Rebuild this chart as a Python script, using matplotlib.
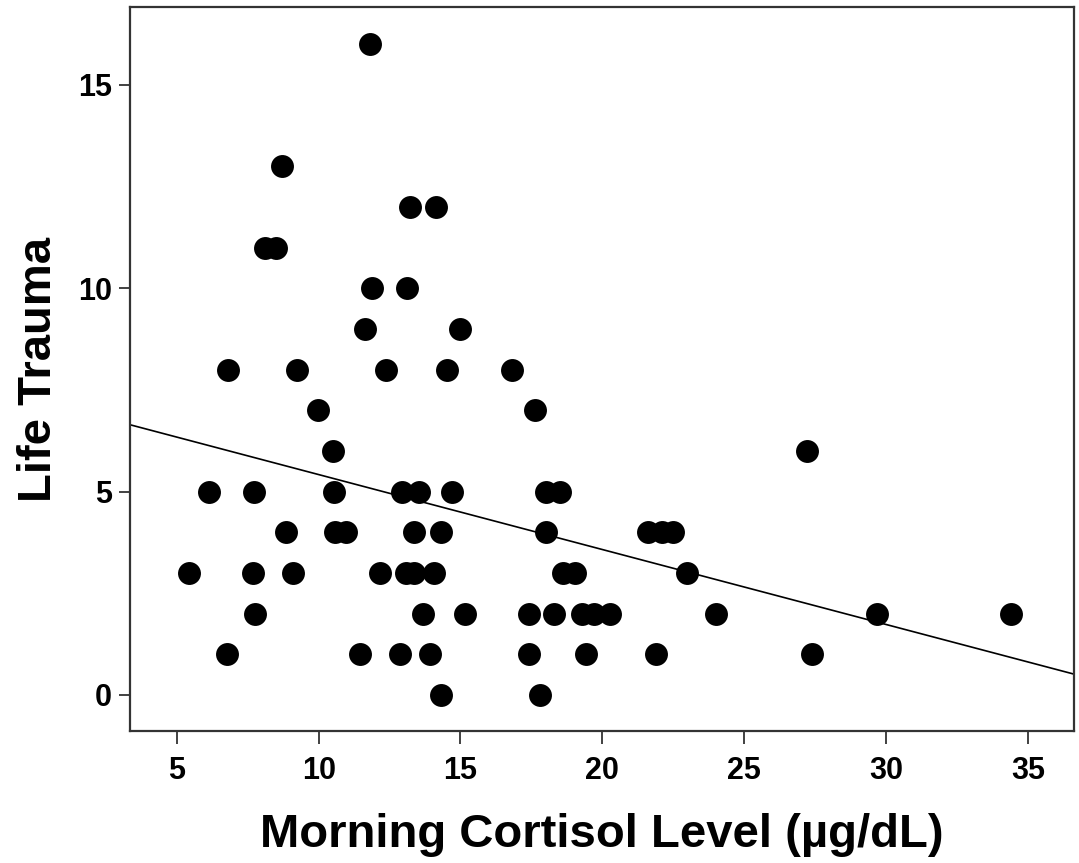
import matplotlib
matplotlib.use('Agg')
import matplotlib.pyplot as plt
import numpy as np

# points, grouped by life trauma score
cortisol = [
    11.82,
    8.71,
    13.21, 14.12,
    8.10, 8.51,
    11.89, 13.11,
    11.64, 14.97,
    6.81, 9.25, 12.37, 14.54, 16.83,
    9.96, 17.61,
    10.51, 27.21,
    6.14, 7.71, 10.55, 12.94, 13.53, 14.70, 18.02, 18.51,
    8.86, 10.59, 10.98, 13.36, 14.30, 18.02, 21.60, 22.10, 22.48,
    5.42, 7.68, 9.10, 12.16, 13.07, 13.36, 14.05, 18.60, 19.04, 22.98,
    7.75, 13.69, 15.17, 17.43, 18.28, 19.30, 19.70, 20.27, 24.01, 29.67, 34.40,
    6.77, 11.45, 12.86, 13.92, 17.42, 19.43, 21.88, 27.38,
    14.30, 17.80,
]
trauma = (
    [16] + [13] + [12] * 2 + [11] * 2 + [10] * 2 + [9] * 2 + [8] * 5 + [7] * 2
    + [6] * 2 + [5] * 8 + [4] * 9 + [3] * 10 + [2] * 11 + [1] * 8 + [0] * 2
)

# fit line as drawn in the original
fit_intercept = 7.262
fit_slope = -0.1843

x_ticks = [5, 10, 15, 20, 25, 30, 35]
y_ticks = [0, 5, 10, 15]
x_lim = (3.35, 36.63)
y_lim = (-0.88, 16.91)


def main():
    plt.rcParams['font.family'] = ['Liberation Sans', 'DejaVu Sans']
    fig = plt.figure(figsize=(10.79, 8.63), dpi=100)
    ax = fig.add_axes([0.1205, 0.1533, 0.8749, 0.8382])

    ax.plot(cortisol, trauma, 'o', color='black', markersize=16.5,
            markeredgewidth=0, zorder=3)

    fx = np.array(x_lim)
    ax.plot(fx, fit_intercept + fit_slope * fx, color='black', lw=1.2, zorder=2)

    ax.set_xlim(*x_lim)
    ax.set_ylim(*y_lim)
    ax.set_xticks(x_ticks)
    ax.set_yticks(y_ticks)

    for spine in ax.spines.values():
        spine.set_color('#333333')
        spine.set_linewidth(1.6)

    ax.tick_params(axis='x', length=9, width=1.3, color='#333333', pad=9,
                   labelsize=22)
    ax.tick_params(axis='y', length=8, width=1.3, color='#333333', pad=5,
                   labelsize=22)
    for lab in ax.get_xticklabels() + ax.get_yticklabels():
        lab.set_fontweight('bold')

    ax.set_xlabel('Morning Cortisol Level (µg/dL)', fontsize=34,
                  fontweight='bold', labelpad=20)
    ax.set_ylabel('Life Trauma', fontsize=34, fontweight='bold', labelpad=12)

    fig.savefig('out.png', dpi=100, facecolor='white')


if __name__ == '__main__':
    main()
